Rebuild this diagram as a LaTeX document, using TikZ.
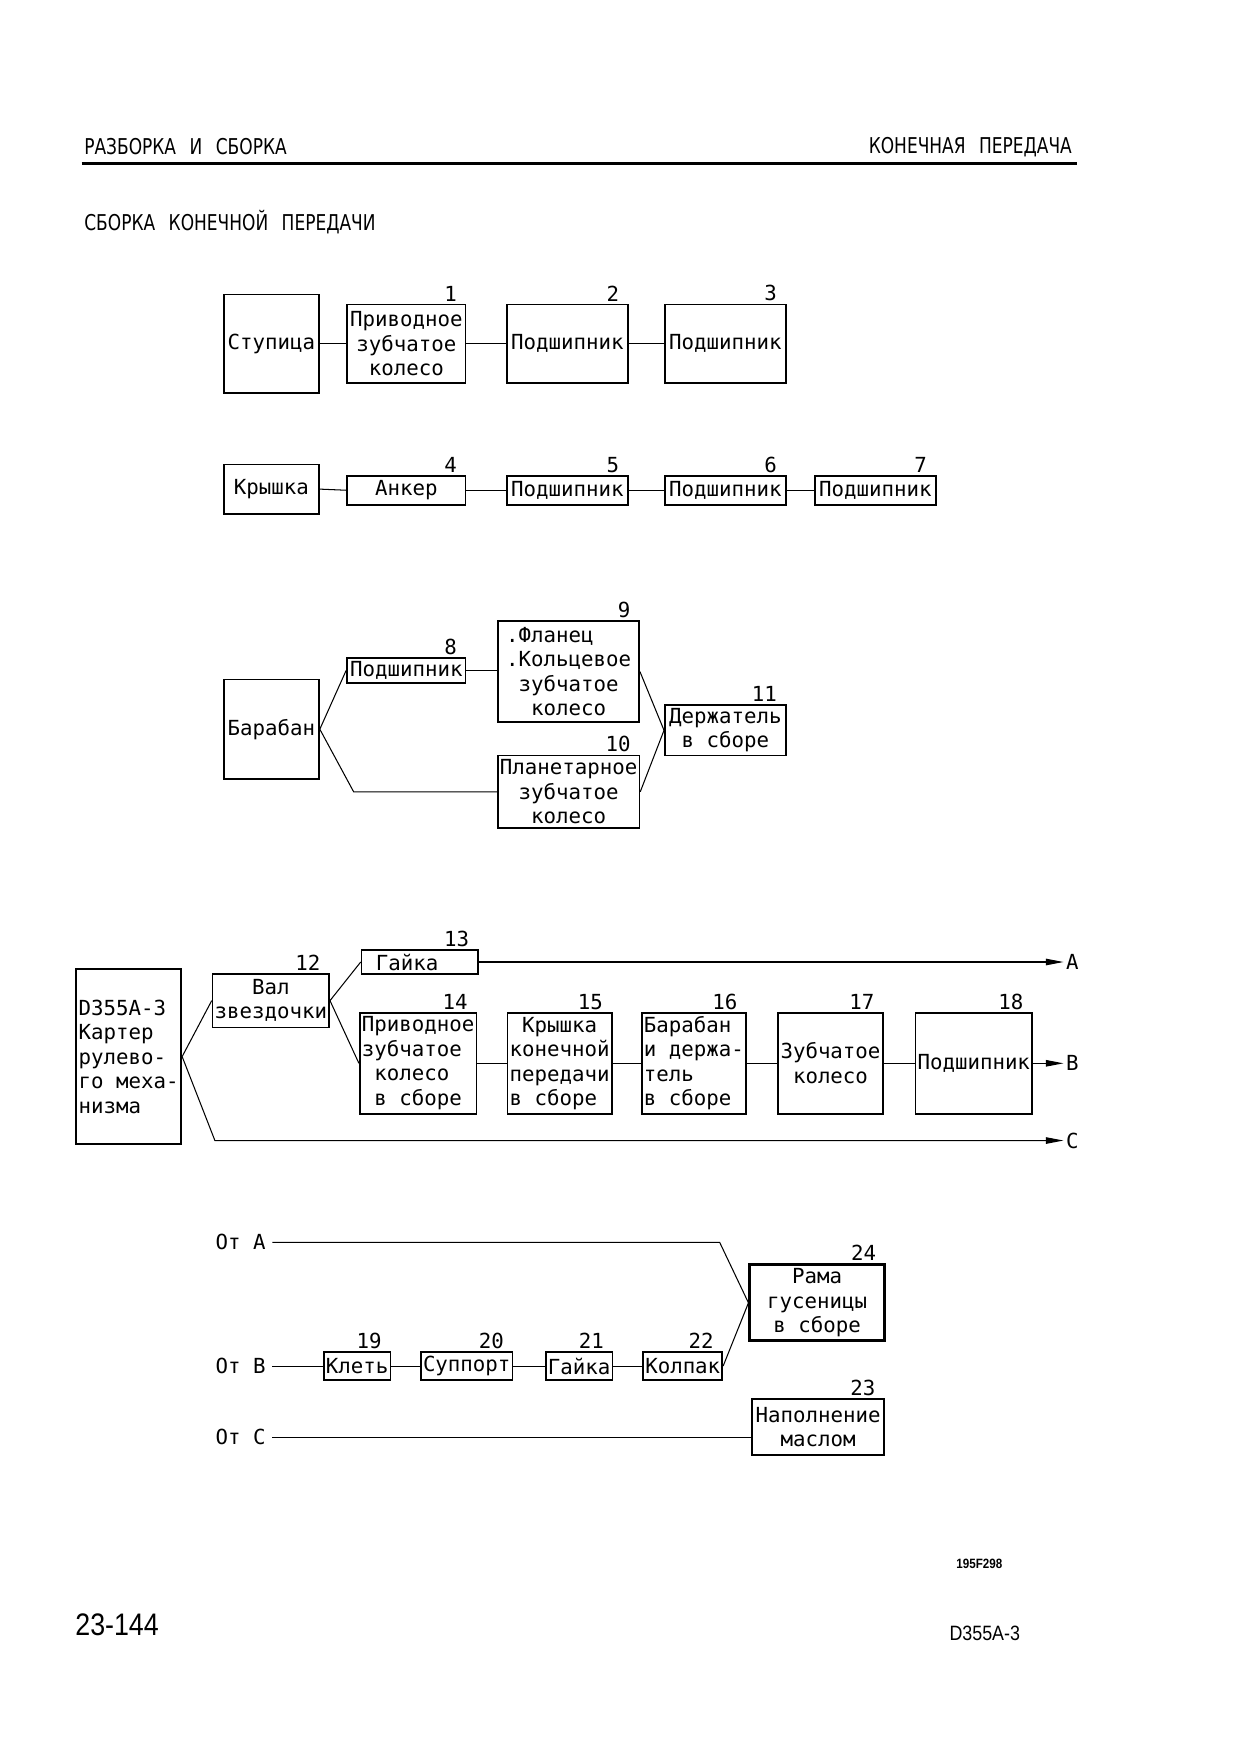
\documentclass[tikz,border=0pt]{standalone}
\usepackage{fontspec}
\usetikzlibrary{arrows.meta}
\newfontfamily\boxfont{DejaVu Sans Mono}
\newfontfamily\headfont[FakeStretch=0.78, WordSpace=2.5]{DejaVu Sans}
\newfontfamily\pagefont[FakeStretch=0.86]{Liberation Sans}
\newcommand\ind{\phantom{0}}
\tikzset{
  part/.style={draw, line width=0.8pt, inner sep=1pt, align=center,
    font=\boxfont\fontsize{10}{11.8}\selectfont},
  sz/.style 2 args={minimum width=#1*0.18953mm, minimum height=#2*0.18953mm},
  num/.style={anchor=south east, inner sep=1pt, xshift=-1.2mm,
    font=\boxfont\fontsize{10}{12}\selectfont},
  tag/.style={inner sep=1pt, inner xsep=3pt, font=\boxfont\fontsize{10}{12}\selectfont},
  head/.style={inner sep=0pt, font=\headfont\fontsize{10.5}{13}\selectfont},
  link/.style={line width=0.5pt},
  linkout/.style={link, -{Triangle[length=3mm,width=1.1mm]}}
}
\begin{document}
\begin{tikzpicture}[x=0.18953mm, y=-0.18953mm]
\useasboundingbox (0,0) rectangle (1108,1568);

\node[head, anchor=west] (hl) at (75,131) {РАЗБОРКА И СБОРКА};
\node[head, anchor=east] (hr) at (958,131) {КОНЕЧНАЯ ПЕРЕДАЧА};
\draw[line width=1.1pt] (73,146) -- (962,146);
\node[head, anchor=west] (ttl) at (75,198) {СБОРКА КОНЕЧНОЙ ПЕРЕДАЧИ};

\node[part, sz={85}{88}] (stup) at (242.5,307) {Ступица};
\node[part, sz={106}{70}] (b1) at (363,307) {Приводное\\зубчатое\\колесо};
\node[part, sz={108}{70}] (b2) at (507,307) {Подшипник};
\node[part, sz={108}{70}] (b3) at (648,307) {Подшипник};
\node[num] (n1) at (b1.north east) {1};
\node[num] (n2) at (b2.north east) {2};
\node[num] (n3) at (b3.north east) {3};
\draw[link] (stup) -- (b1) -- (b2) -- (b3);

\node[part, sz={85}{44}] (lid) at (242.5,437) {Крышка};
\node[part, sz={106}{26}] (b4) at (363,438) {Анкер};
\node[part, sz={108}{26}] (b5) at (507,438) {Подшипник};
\node[part, sz={108}{26}] (b6) at (648,438) {Подшипник};
\node[part, sz={108}{26}] (b7) at (782,438) {Подшипник};
\node[num] (n4) at (b4.north east) {4};
\node[num] (n5) at (b5.north east) {5};
\node[num] (n6) at (b6.north east) {6};
\node[num] (n7) at (b7.north east) {7};
\draw[link] (lid.east) -- (b4.west);
\draw[link] (b4) -- (b5) -- (b6) -- (b7);

\node[part, sz={85}{89}] (drum) at (242.5,651.5) {Барабан};
\node[part, sz={106}{22}] (b8) at (363,599) {Подшипник};
\node[part, sz={126}{90}, align=left] (b9) at (508,600) {.Фланец\\.Кольцевое\\\ind зубчатое\\\ind\ind колесо};
\node[part, sz={126}{65}] (b10) at (508,707.5) {Планетарное\\зубчатое\\колесо};
\node[part, sz={108}{45}] (b11) at (648,652.5) {Держатель\\в сборе};
\node[num] (n8) at (b8.north east) {8};
\node[num] (n9) at (b9.north east) {9};
\node[num] (n10) at (b10.north east) {10};
\node[num] (n11) at (b11.north east) {11};
\coordinate (bk1) at (316,707.5);
\draw[link] (drum.east) -- (b8.west);
\draw[link] (drum.east) -- (bk1) -- (b10.west);
\draw[link] (b8.east) -- (b8.east -| b9.west);
\draw[link] (b9.east) -- (b11.west);
\draw[link] (b10.east) -- (b11.west);

\node[part, sz={94}{156}, align=left] (case) at (115,944) {D355A-3\\Картер\\рулево-\\го меха-\\низма};
\node[part, sz={104}{48}] (b12) at (242,894) {Вал\\звездочки};
\node[part, sz={104}{21}] (b13) at (375,859.5) {Гайка\ind\ind};
\node[part, sz={103}{90}, align=left] (b14) at (373.5,950) {Приводное\\зубчатое\\\ind колесо\\\ind в сборе};
\node[part, sz={92}{90}, align=left] (b15) at (500,950) {\ind Крышка\\конечной\\передачи\\в сборе};
\node[part, sz={92}{90}, align=left] (b16) at (620,950) {Барабан\\и держа-\\тель\\в сборе};
\node[part, sz={94}{90}] (b17) at (742,950) {Зубчатое\\колесо};
\node[part, sz={104}{90}] (b18) at (870,950) {Подшипник};
\node[num] (n12) at (b12.north east) {12};
\node[num] (n13) at (b13.north east) {13};
\node[num] (n14) at (b14.north east) {14};
\node[num] (n15) at (b15.north east) {15};
\node[num] (n16) at (b16.north east) {16};
\node[num] (n17) at (b17.north east) {17};
\node[num] (n18) at (b18.north east) {18};
\node[tag, inner xsep=1pt] (toA) at (958,859.5) {A};
\node[tag, inner xsep=1pt] (toB) at (958,950) {B};
\node[tag, inner xsep=1pt] (toC) at (958,1019) {C};
\coordinate (bk2) at (192,1019);
\draw[link] (case.east) -- (b12.west);
\draw[link] (b12.east) -- (b13.west);
\draw[link] (b12.east) -- (b14.west);
\draw[link] (b14) -- (b15) -- (b16) -- (b17) -- (b18);
\draw[linkout] (b13.east) -- (toA.west);
\draw[linkout] (b18.east) -- (toB.west);
\draw[linkout] (case.east) -- (bk2) -- (toC.west);

\node[tag] (fromA) at (215,1110) {От A};
\node[tag] (fromB) at (215,1220.5) {От B};
\node[tag] (fromC) at (215,1284) {От C};
\node[part, sz={120}{68}, line width=1.4pt] (b24) at (730,1164) {Рама\\гусеницы\\в сборе};
\node[part, sz={58}{25}] (b19) at (319,1220.5) {Клеть};
\node[part, sz={78}{25}] (b20) at (417,1220.5) {Суппорт};
\node[part, sz={59}{25}] (b21) at (517.5,1220.5) {Гайка};
\node[part, sz={70}{25}] (b22) at (610,1220.5) {Колпак};
\node[part, sz={118}{50}] (b23) at (731,1275) {Наполнение\\маслом};
\node[num] (n19) at (b19.north east) {19};
\node[num] (n20) at (b20.north east) {20};
\node[num] (n21) at (b21.north east) {21};
\node[num] (n22) at (b22.north east) {22};
\node[num] (n23) at (b23.north east) {23};
\node[num] (n24) at (b24.north east) {24};
\coordinate (bk3) at (643,1110);
\draw[link] (fromA.east) -- (bk3) -- (b24.west);
\draw[link] (fromB.east) -- (b19.west);
\draw[link] (b19) -- (b20) -- (b21) -- (b22);
\draw[link] (b22.east) -- (b24.west);
\draw[link] (fromC.east) -- (fromC.east -| b23.west);

\node[inner sep=0pt, font=\pagefont\bfseries\fontsize{6.5}{8}\selectfont] (fig) at (875,1397) {195F298};
\node[anchor=west, inner sep=0pt, font=\pagefont\fontsize{15}{18}\selectfont] (page) at (67,1452) {23-144};
\node[anchor=west, inner sep=0pt, font=\pagefont\fontsize{10}{12}\selectfont] (model) at (848,1459) {D355A-3};

\end{tikzpicture}
\end{document}
